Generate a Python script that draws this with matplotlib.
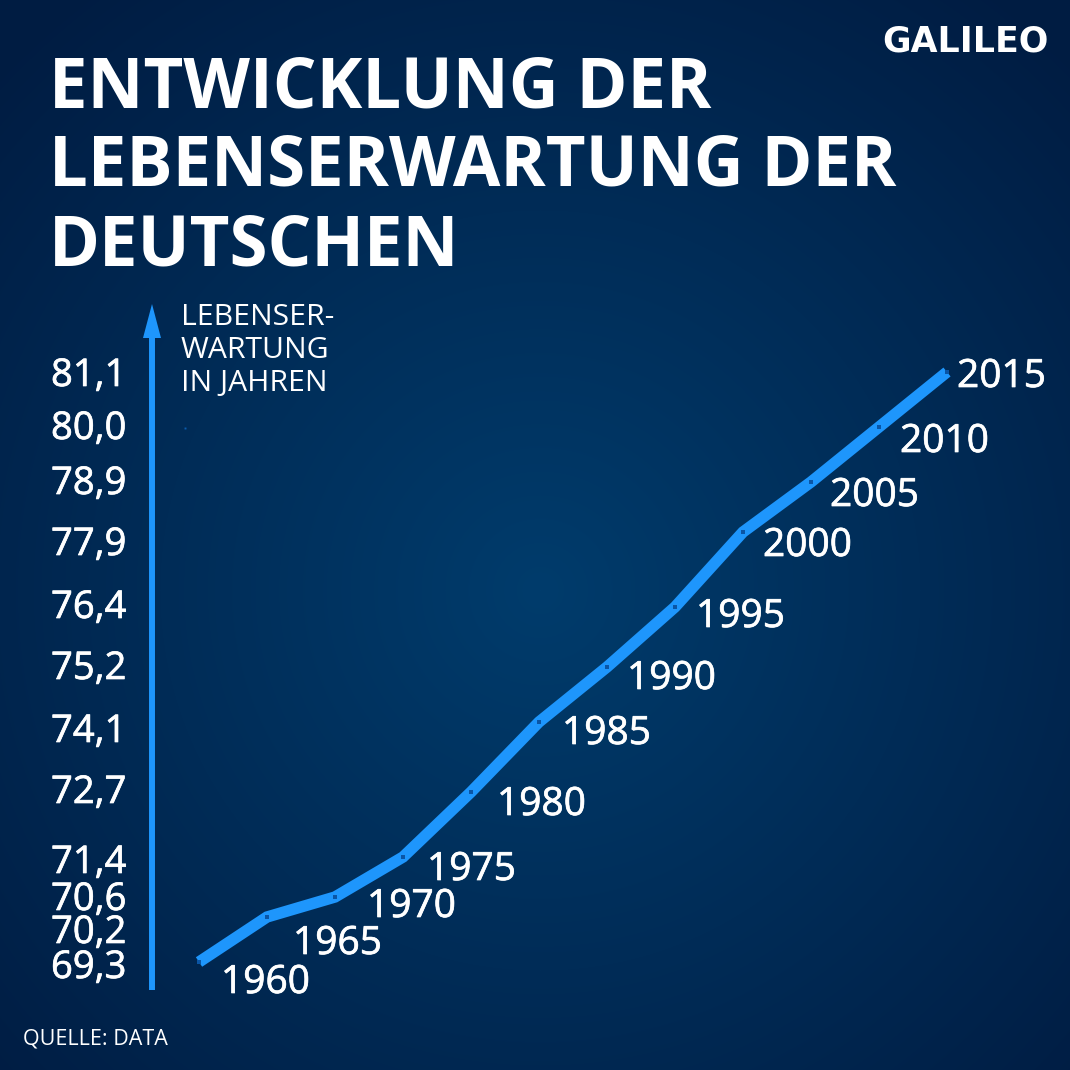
import numpy as np
import matplotlib
matplotlib.use('Agg')
import matplotlib.pyplot as plt
import matplotlib.patheffects as pe
from matplotlib.patches import Polygon

years = [1960, 1965, 1970, 1975, 1980, 1985, 1990, 1995, 2000, 2005, 2010, 2015]
life_exp = [69.3, 70.2, 70.6, 71.4, 72.7, 74.1, 75.2, 76.4, 77.9, 78.9, 80.0, 81.1]
value_labels = ['69,3', '70,2', '70,6', '71,4', '72,7', '74,1', '75,2', '76,4', '77,9', '78,9', '80,0', '81,1']

# label placement in image pixels, baseline of the text
value_label_y = [978, 943, 910, 873, 803, 742, 679, 618, 555, 494, 439, 386]
year_label_x = [221, 293, 367, 427, 497, 562, 627, 696, 763, 830, 900, 957]
year_label_y = [993, 954, 917, 880, 815, 744, 689, 627, 556, 506, 452, 387]

title_lines = ['ENTWICKLUNG DER', 'LEBENSERWARTUNG DER', 'DEUTSCHEN']
title_y = [107, 186, 266]
axis_lines = ['LEBENSER-', 'WARTUNG', 'IN JAHREN']
axis_y = [325, 358, 391]

BLUE = '#1e96fc'
W = 1070

plt.rcParams['font.family'] = ['Open Sans', 'DejaVu Sans']
fig = plt.figure(figsize=(10.7, 10.7), dpi=100)

# background + all text, in pixel coordinates
bg = fig.add_axes([0, 0, 1, 1])
bg.set_xlim(0, W)
bg.set_ylim(W, 0)
bg.axis('off')

yy, xx = np.mgrid[0:W, 0:W]
r = np.sqrt((xx - 540) ** 2 + (yy - 590) ** 2) / 760
r = np.clip(r, 0, 1)[..., None]
inner = np.array([0x00, 0x3c, 0x6c]) / 255
outer = np.array([0x00, 0x1c, 0x42]) / 255
bg.imshow(inner + (outer - inner) * r, extent=(0, W, W, 0), aspect='auto', zorder=0)

# 50 px per year of life, 13.6 px per calendar year
ax = fig.add_axes([0, 0, 1, 1])
ax.patch.set_alpha(0)
ax.set_xlim(1960 - 199 / 13.6, 1960 + (W - 199) / 13.6)
ax.set_ylim(69.3 - 108 / 50, 69.3 + 962 / 50)
ax.axis('off')
ax.plot(years, life_exp, color=BLUE, lw=8.2, solid_capstyle='butt', solid_joinstyle='miter', zorder=2)
ax.plot(years, life_exp, ls='none', marker='s', ms=3, mew=0, color='#0a55a5', zorder=3)

# y axis arrow
bg.plot([152, 152], [990, 336], color=BLUE, lw=4.3, solid_capstyle='butt', zorder=2)
bg.add_patch(Polygon([[152, 304], [161, 338], [143, 338]], closed=True, fc=BLUE, ec='none', zorder=2))
bg.plot([185], [428], ls='none', marker='s', ms=1.4, mew=0, color='#0b5cad', zorder=2)

# number labels are a bit heavier than the regular weight
heavier = [pe.withStroke(linewidth=0.5, foreground='white')]

for line, y in zip(title_lines, title_y):
    bg.text(49, y, line, color='white', fontsize=49.6, fontweight='bold', va='baseline', ha='left')

for label, y in zip(value_labels, value_label_y):
    bg.text(51, y, label, color='white', fontsize=27.5, va='baseline', ha='left', path_effects=heavier)

for year, x, y in zip(years, year_label_x, year_label_y):
    bg.text(x, y, str(year), color='white', fontsize=28, va='baseline', ha='left', path_effects=heavier)

for line, y in zip(axis_lines, axis_y):
    bg.text(181, y, line, color='white', fontsize=21.7, va='baseline', ha='left')

bg.text(23, 1045, 'QUELLE: DATA', color='white', fontsize=15.5, va='baseline', ha='left')
bg.text(882, 51, 'GALILEO', color='white', fontsize=25, fontweight='bold', family='DejaVu Sans', va='baseline', ha='left')

fig.savefig('out.png', dpi=100)
